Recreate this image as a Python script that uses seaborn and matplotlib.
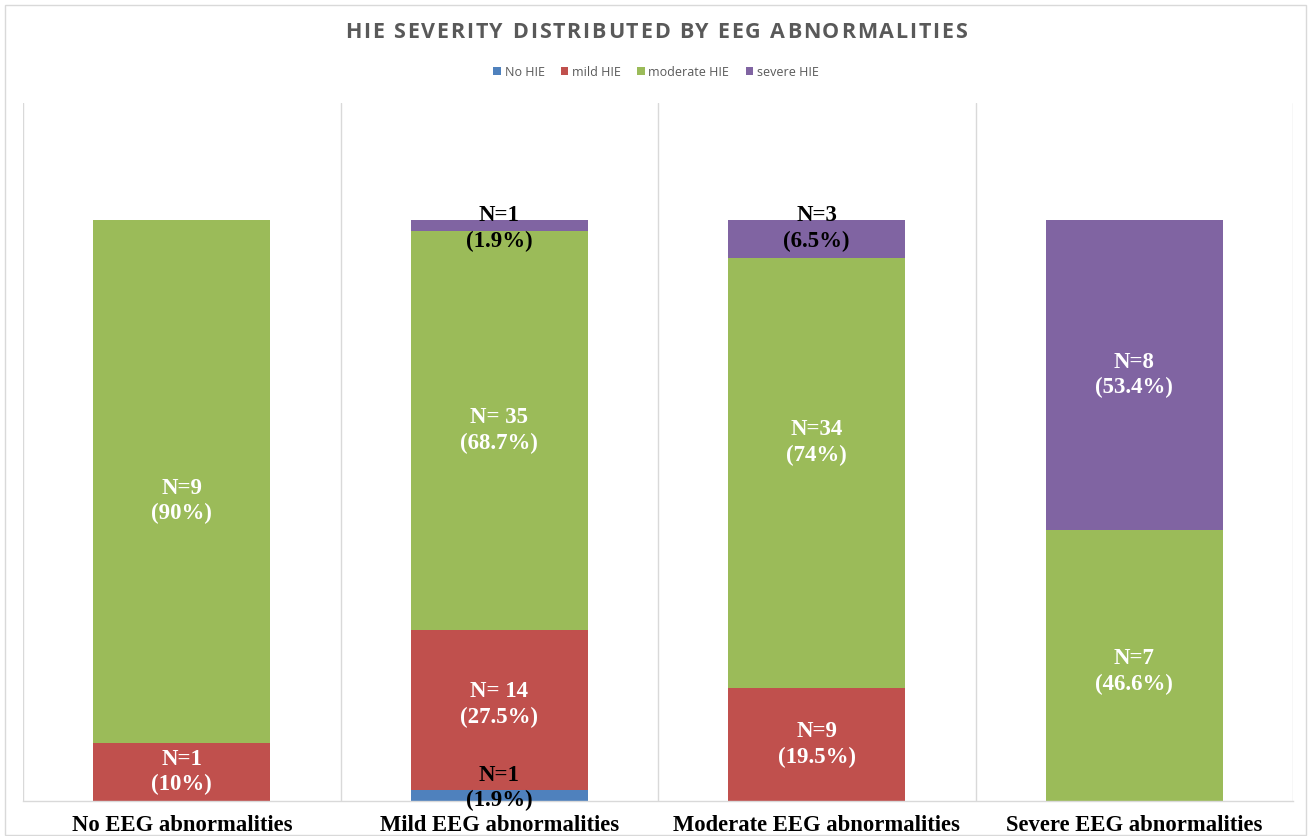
import numpy as np
import pandas as pd
import matplotlib
matplotlib.use("Agg")
import matplotlib.pyplot as plt
from matplotlib.patches import Patch, Rectangle
import seaborn as sns

# Categories (EEG abnormality grade) and HIE severity shares (%) within each
categories = ["No EEG abnormalities", "Mild EEG abnormalities",
              "Moderate EEG abnormalities", "Severe EEG abnormalities"]
series = ["No HIE", "mild HIE", "moderate HIE", "severe HIE"]
no_hie = [0.0, 1.9, 0.0, 0.0]
mild_hie = [10.0, 27.5, 19.5, 0.0]
moderate_hie = [90.0, 68.7, 74.0, 46.6]
severe_hie = [0.0, 1.9, 6.5, 53.4]

# Segment labels (counts and shares), one list per series
no_hie_labels = ["", "N=1\n(1.9%)", "", ""]
mild_hie_labels = ["N=1\n(10%)", "N= 14\n(27.5%)", "N=9\n(19.5%)", ""]
moderate_hie_labels = ["N=9\n(90%)", "N= 35\n(68.7%)", "N=34\n(74%)", "N=7\n(46.6%)"]
severe_hie_labels = ["", "N=1\n(1.9%)", "N=3\n(6.5%)", "N=8\n(53.4%)"]

# Hand-placed label nudges, in percentage points away from the segment middle
no_hie_shift = [0.0, 1.3, 0.0, 0.0]
mild_hie_shift = [0.0, 1.0, 0.0, 0.0]
moderate_hie_shift = [-3.4, 0.0, 5.2, -1.0]
severe_hie_shift = [0.0, -0.5, 1.8, 0.0]

title = "HIE SEVERITY DISTRIBUTED BY EEG ABNORMALITIES"

colors = ["#4F81BD", "#C0504D", "#9BBB59", "#8064A2"]
values = [no_hie, mild_hie, moderate_hie, severe_hie]
labels = [no_hie_labels, mild_hie_labels, moderate_hie_labels, severe_hie_labels]
shifts = [no_hie_shift, mild_hie_shift, moderate_hie_shift, severe_hie_shift]

sns.set_theme(style="white")
plt.rcParams["font.family"] = ["DejaVu Sans"]

W, H = 1312, 836
fig = plt.figure(figsize=(W / 100, H / 100), dpi=100)
ax = fig.add_axes([23 / W, 35 / H, 1270 / W, 698 / H])

# Stacked bars: draw cumulative tops from the highest layer down
cum = np.cumsum(np.array(values), axis=0)
for i in range(len(series) - 1, -1, -1):
    df = pd.DataFrame({"category": categories, "top": cum[i]})
    sns.barplot(data=df, x="category", y="top", color=colors[i],
                saturation=1, width=0.557, ax=ax, linewidth=0, errorbar=None)

# Segment labels
for i in range(len(series)):
    for j, cat in enumerate(categories):
        v = values[i][j]
        if v <= 0:
            continue
        lab = labels[i][j]
        thin = v < 5 or (i == 3 and j == 2)
        y = cum[i][j] - v / 2 + shifts[i][j]
        ax.text(j, y, lab, ha="center", va="center", fontsize=16.5,
                fontweight="bold", family="Liberation Serif",
                color="black" if thin else "white", linespacing=1.28)

ax.set_xlim(-0.5, 3.5)
ax.set_ylim(0, 120.1)
ax.set_xlabel("")
ax.set_ylabel("")
ax.set_yticks([])
ax.tick_params(axis="x", length=0, pad=10)
for t in ax.get_xticklabels():
    t.set_fontfamily("Liberation Serif")
    t.set_fontweight("bold")
    t.set_fontsize(16.3)
    t.set_color("black")

# Category separators and frame
for x in [-0.5, 0.5, 1.5, 2.5, 3.5]:
    ax.axvline(x, color="#D9D9D9", lw=1, zorder=0)
for s in ["top", "right", "left"]:
    ax.spines[s].set_visible(False)
ax.spines["bottom"].set_color("#D9D9D9")
ax.spines["bottom"].set_linewidth(1)

# Title with letter spacing: place each character after its measured prefix
renderer = fig.canvas.get_renderer()
title_kw = dict(fontsize=15.5, fontweight="bold", color="#595959",
                family="Open Sans")
tracking = 1.8  # extra pixels between characters


def text_width(s):
    if not s:
        return 0.0
    probe = fig.text(0, 0, s + "|", **title_kw)
    bar = fig.text(0, 0, "|", **title_kw)
    w = probe.get_window_extent(renderer).width - bar.get_window_extent(renderer).width
    probe.remove()
    bar.remove()
    return w


total = text_width(title) + tracking * (len(title) - 1)
x0 = W / 2 - total / 2
ty = 1 - 33 / H
for k, ch in enumerate(title):
    if ch == " ":
        continue
    xk = x0 + text_width(title[:k]) + tracking * k
    fig.text(xk / W, ty, ch, ha="left", va="center", **title_kw)

handles = [Patch(facecolor=c, edgecolor="none") for c in colors]
fig.legend(handles, series, loc="center", bbox_to_anchor=(0.5, 1 - 72 / H),
           ncol=4, frameon=False, handlelength=0.6,
           handleheight=0.6, handletextpad=0.3, columnspacing=1.3,
           labelcolor="#595959", prop={"family": "Open Sans", "size": 9})

fig.patches.append(Rectangle((5 / W, 1 / H), 1301 / W, 830 / H,
                             transform=fig.transFigure, fill=False,
                             edgecolor="#D9D9D9", lw=1))

fig.savefig("out.png", dpi=100, facecolor="white")
